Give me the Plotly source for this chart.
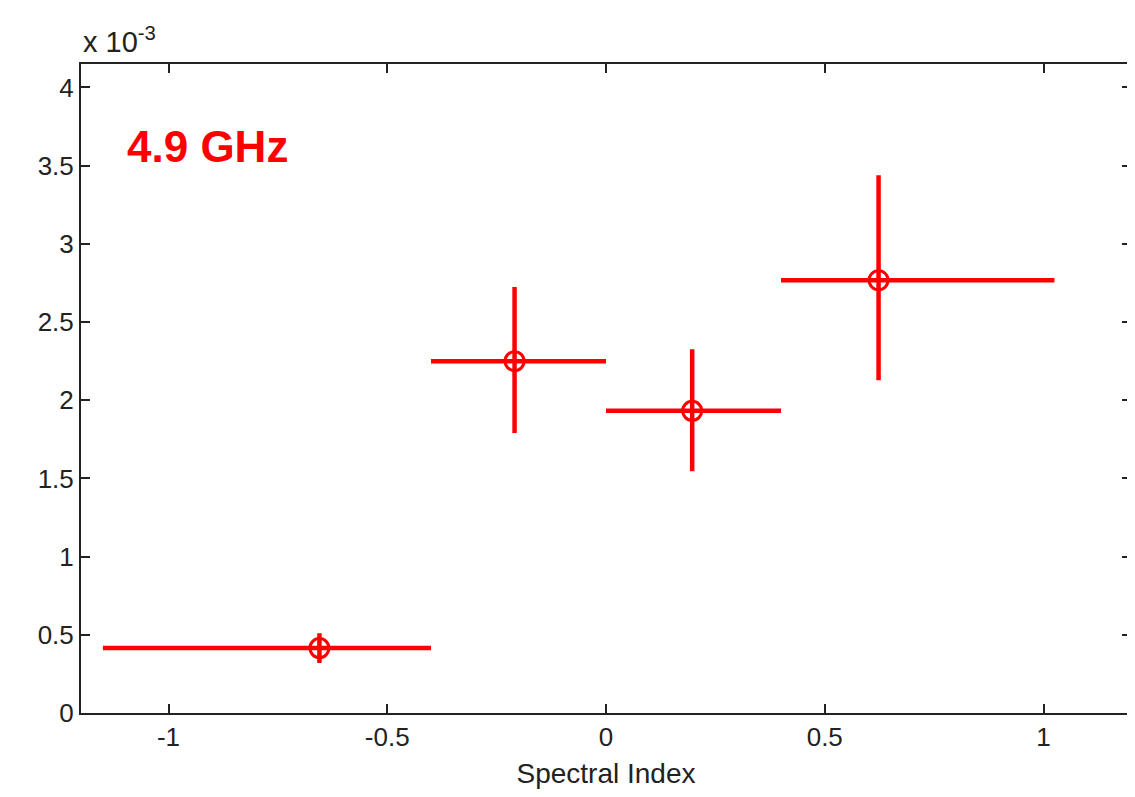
import plotly.graph_objects as go

# Data (y values in units of 1e-3)
spectral_index = [-0.655, -0.209, 0.197, 0.623]
value = [0.415, 2.25, 1.932, 2.767]
x_low = [-1.15, -0.4, 0.0, 0.4]
x_high = [-0.4, 0.0, 0.4, 1.025]
y_low = [0.32, 1.79, 1.546, 2.128]
y_high = [0.51, 2.724, 2.326, 3.438]

x_tick_vals = [-1, -0.5, 0, 0.5, 1]
x_tick_text = ["-1", "-0.5", "0", "0.5", "1"]
y_tick_vals = [0, 0.5, 1, 1.5, 2, 2.5, 3, 3.5, 4]
y_tick_text = ["0", "0.5", "1", "1.5", "2", "2.5", "3", "3.5", "4"]

ex_plus = [h - x for h, x in zip(x_high, spectral_index)]
ex_minus = [x - l for l, x in zip(x_low, spectral_index)]
ey_plus = [h - y for h, y in zip(y_high, value)]
ey_minus = [y - l for l, y in zip(y_low, value)]

RED = "#ff0000"
FONT = "Liberation Sans, Arial, sans-serif"

fig = go.Figure()
fig.add_trace(go.Scatter(
    x=spectral_index, y=value, mode="markers",
    marker=dict(symbol="circle-open", size=19, color=RED, line=dict(width=3, color=RED)),
    error_x=dict(type="data", symmetric=False, array=ex_plus, arrayminus=ex_minus,
                 color=RED, thickness=4.5, width=0),
    error_y=dict(type="data", symmetric=False, array=ey_plus, arrayminus=ey_minus,
                 color=RED, thickness=4.5, width=0),
    showlegend=False,
))

axis_common = dict(
    showline=True, linecolor="#222222", linewidth=2, mirror="ticks",
    ticks="inside", ticklen=9, tickwidth=2, tickcolor="#222222",
    showgrid=False, zeroline=False,
    tickfont=dict(family=FONT, size=26, color="#222222"),
)

fig.update_xaxes(range=[-1.2, 1.2], tickvals=x_tick_vals, ticktext=x_tick_text,
                 title=dict(text="Spectral Index", font=dict(family=FONT, size=28, color="#222222"),
                            standoff=14),
                 **axis_common)
fig.update_yaxes(range=[0, 4.15], tickvals=y_tick_vals, ticktext=y_tick_text, **axis_common)

fig.add_annotation(text="4.9 GHz", xref="x", yref="y", x=-1.1, y=3.62,
                   xanchor="left", yanchor="middle", showarrow=False,
                   font=dict(family=FONT, size=44, color=RED, weight="bold"))
fig.add_annotation(text="x 10<sup>-3</sup>", xref="paper", yref="paper", x=0, y=1,
                   xanchor="left", yanchor="bottom", yshift=4, showarrow=False,
                   font=dict(family=FONT, size=29, color="#222222"))

fig.update_layout(
    width=1127, height=781,
    margin=dict(l=73, r=2, t=56, b=76),
    paper_bgcolor="white", plot_bgcolor="white",
)

fig.write_html("out.html")
